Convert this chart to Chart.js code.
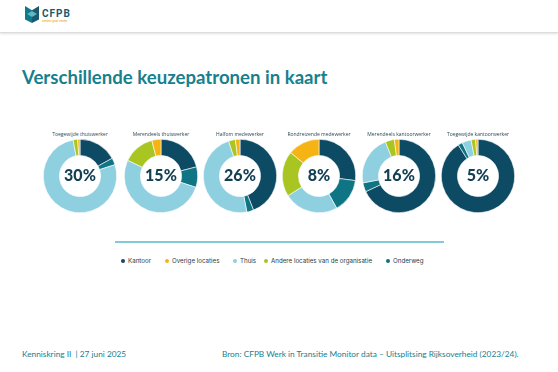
<!DOCTYPE html>
<html lang="nl">
<head>
<meta charset="UTF-8" />
<title>Verschillende keuzepatronen in kaart</title>
<script src="https://cdn.jsdelivr.net/npm/chart.js"></script>
<style>
  html, body { margin: 0; padding: 0; background: #fff; }
  body { width: 558px; height: 372px; position: relative; overflow: hidden; font-family: Lato, "Open Sans", sans-serif; }
  .header { position: absolute; left: 0; top: 0; width: 558px; height: 32px; border-bottom: 1px solid #dcdcdc; box-shadow: 0 1px 2px rgba(0,0,0,0.12); }
  .logo { position: absolute; left: 25px; top: 6px; width: 14px; height: 17px; }
  .logo div { position: absolute; }
  .brand { position: absolute; left: 42px; top: 8px; font: bold 10px Roboto, sans-serif; color: #1a5a6e; letter-spacing: 1px; }
  .tag { position: absolute; left: 42px; top: 19px; font: 3px Roboto, sans-serif; color: #f0a020; }
  h1 { position: absolute; left: 22px; top: 66px; margin: 0; font: bold 18.6px Lato, sans-serif; color: #17808f; white-space: nowrap; }
  .ctitle { position: absolute; top: 131px; width: 90px; text-align: center; font: 5px "Open Sans", sans-serif; color: #2a4a5a; }
  canvas { position: absolute; }
  .pct { position: absolute; top: 165px; width: 60px; text-align: center; font: 900 16px Lato, sans-serif; color: #123f52; }
  .rule { position: absolute; left: 115px; top: 241px; width: 329px; height: 2px; background: #7fcbd7; }
  .legend { position: absolute; top: 257px; font: 6.2px Inter, sans-serif; color: #2a3a44; white-space: nowrap; }
  .legend i { display: inline-block; width: 4px; height: 4px; border-radius: 50%; margin-right: 3px; vertical-align: 0px; }
  .foot { position: absolute; top: 349px; font: 8.3px Lato, sans-serif; color: #17808f; white-space: nowrap; }
</style>
</head>
<body>
<div class="header">
  <div class="logo">
    <div style="left:0;top:0;width:7px;height:17px;background:#0f7a8a;clip-path:polygon(0 0,100% 25%,100% 100%,0 80%);"></div>
    <div style="left:7px;top:0;width:7px;height:17px;background:#1a5a6e;clip-path:polygon(0 25%,100% 0,100% 80%,0 100%);"></div>
    <div style="left:2px;top:5px;width:10px;height:6px;background:#5fb8c4;clip-path:polygon(0 50%,50% 0,100% 50%,50% 100%);"></div>
  </div>
  <div class="brand">CFPB</div>
  <div class="tag">werken gaat verder</div>
</div>

<h1>Verschillende keuzepatronen in kaart</h1>

<div id="charts"></div>

<div class="rule"></div>
<div class="legend" style="left:121px"><i style="background:#0d4a63"></i>Kantoor</div>
<div class="legend" style="left:165px"><i style="background:#f6b414"></i>Overige locaties</div>
<div class="legend" style="left:233px"><i style="background:#8fd0e0"></i>Thuis</div>
<div class="legend" style="left:264px"><i style="background:#a9c522"></i>Andere locaties van de organisatie</div>
<div class="legend" style="left:386px"><i style="background:#0f6f82"></i>Onderweg</div>

<div class="foot" style="left:22px">Kenniskring II &nbsp;| 27 juni 2025</div>
<div class="foot" style="left:222px">Bron: CFPB Werk in Transitie Monitor data – Uitsplitsing Rijksoverheid (2023/24).</div>

<script>
// segment order = clockwise from top
const locaties = ["Kantoor", "Onderweg", "Thuis", "Andere locaties van de organisatie", "Overige locaties"];
const kleuren = ["#0d4a63", "#0f7484", "#8fd0e0", "#a9c522", "#f6b414"];

const profielen = ["Toegewijde thuiswerker", "Merendeels thuiswerker", "Halfom medewerker",
  "Rondreizende medewerker", "Merendeels kantoorwerker", "Toegewijde kantoorwerker"];
const aandelen = ["30%", "15%", "26%", "8%", "16%", "5%"];

const toegewijdeThuis   = [17, 3, 77, 2, 1];
const merendeelsThuis   = [21, 9, 52, 14, 4];
const halfom            = [44, 3, 48, 3, 2];
const rondreizend       = [27, 15, 24, 20, 14];
const merendeelsKantoor = [68, 4, 22, 4, 2];
const toegewijdeKantoor = [91, 2, 4, 2, 1];

const reeksen = [toegewijdeThuis, merendeelsThuis, halfom, rondreizend, merendeelsKantoor, toegewijdeKantoor];
const centers = [80, 161, 240, 319, 399, 478];

const holder = document.getElementById("charts");
reeksen.forEach((data, i) => {
  const cx = centers[i];
  const t = document.createElement("div");
  t.className = "ctitle";
  t.style.left = (cx - 45) + "px";
  t.textContent = profielen[i];
  holder.appendChild(t);

  const c = document.createElement("canvas");
  c.width = 74; c.height = 74;
  c.style.left = (cx - 37) + "px";
  c.style.top = "139px";
  holder.appendChild(c);

  const p = document.createElement("div");
  p.className = "pct";
  p.style.left = (cx - 30) + "px";
  p.textContent = aandelen[i];
  holder.appendChild(p);

  new Chart(c, {
    type: "doughnut",
    data: {
      labels: locaties,
      datasets: [{ data: data, backgroundColor: kleuren, borderColor: "#fff", borderWidth: 0.6 }]
    },
    options: {
      responsive: false,
      animation: false,
      cutout: "56%",
      plugins: { legend: { display: false }, tooltip: { enabled: false } },
      layout: { padding: 0 }
    }
  });
});
</script>
</body>
</html>
